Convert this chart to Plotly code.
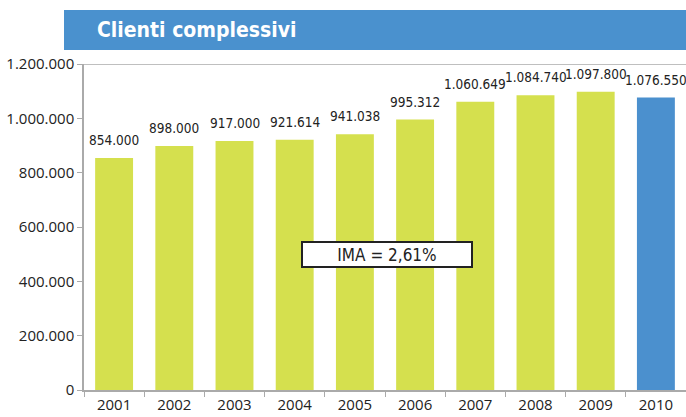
import plotly.graph_objects as go

years = ["2001", "2002", "2003", "2004", "2005", "2006", "2007", "2008", "2009", "2010"]
clients = [854000, 898000, 917000, 921614, 941038, 995312, 1060649, 1084740, 1097800, 1076550]
bar_colors = ["#D5E04E"] * 9 + ["#4B90CE"]
title_text = "Clienti complessivi"
ima_text = "IMA = 2,61%"

FONT = "DejaVu Sans Condensed, DejaVu Sans, sans-serif"
TICKFONT = "Open Sans, Noto Sans, sans-serif"

def fmt(v):
    return f"{v:,}".replace(",", ".")

fig = go.Figure(go.Bar(x=years, y=clients, marker=dict(color=bar_colors, line=dict(width=0)),
                       width=0.63, hoverinfo="skip"))

for i, v in enumerate(clients):
    fig.add_annotation(x=i, y=v, text=fmt(v), showarrow=False, yanchor="bottom", yshift=8,
                       font=dict(family=FONT, size=13.5, color="#222222"))

fig.add_annotation(xref="paper", yref="paper", x=(387 - 84) / 602, y=(390 - 254) / 326,
                   text=ima_text, showarrow=False, bgcolor="white", bordercolor="#222222",
                   borderwidth=2, width=166, height=21, yanchor="middle", xanchor="center",
                   font=dict(family=FONT, size=17, color="#222222"))

# Title bar
fig.add_shape(type="rect", xref="paper", yref="paper", x0=(64 - 84) / 602, x1=1.02,
              y0=(390 - 50) / 326, y1=(390 - 10) / 326, fillcolor="#4A91CE", line=dict(width=0),
              layer="below")
fig.add_annotation(xref="paper", yref="paper", x=(95 - 84) / 602, y=(390 - 30) / 326,
                   text="<b>" + title_text + "</b>", showarrow=False, xanchor="left",
                   yanchor="middle",
                   font=dict(family=FONT, size=21, color="white"))
# top line
fig.add_shape(type="line", xref="paper", yref="y", x0=0, x1=1, y0=1200000, y1=1200000,
              line=dict(color="#AAAAAA", width=1.5))

fig.update_layout(
    width=686, height=417, margin=dict(l=84, r=0, t=64, b=27, autoexpand=False),
    plot_bgcolor="white", paper_bgcolor="white", separators=",.",
    showlegend=False, bargap=0.37,
    font=dict(family=FONT, size=15, color="#222222"),
)
fig.update_xaxes(type="category", range=[-0.5, 9.5], autorange=False, showline=True,
                 linecolor="#AAAAAA", linewidth=1.5, ticks="outside",
                 tickson="boundaries", ticklen=5, tickcolor="#AAAAAA", showgrid=False,
                 tickfont=dict(family=TICKFONT, size=15, color="#222222"))
fig.update_yaxes(range=[0, 1200000], autorange=False,
                 tickvals=[0, 200000, 400000, 600000, 800000, 1000000, 1200000],
                 tickformat=",d", showline=True, linecolor="#AAAAAA", linewidth=1.5,
                 ticks="outside", ticklen=5, tickcolor="#AAAAAA", showgrid=False, zeroline=False,
                 tickfont=dict(family=TICKFONT, size=15, color="#222222"))

fig.write_html("out.html", config={"displayModeBar": False},
               post_script="document.body.style.margin='0';document.body.style.overflow='hidden';")
